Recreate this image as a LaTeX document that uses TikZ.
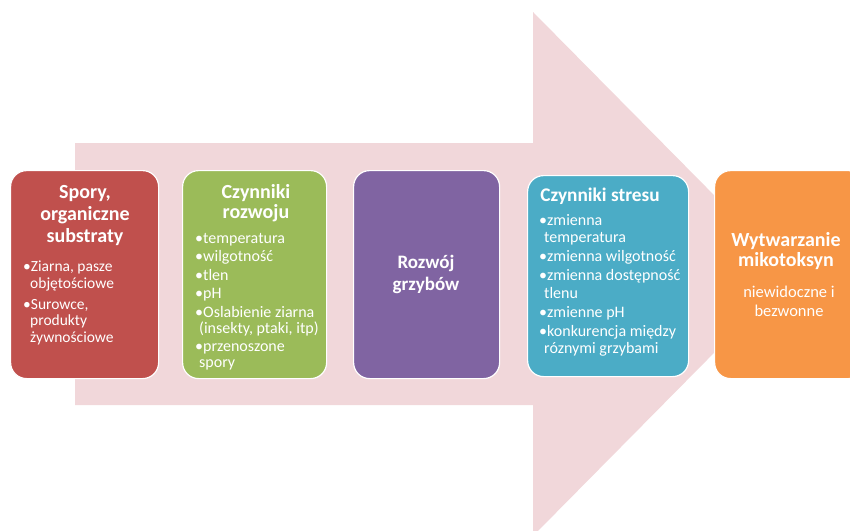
\documentclass[tikz,border=0pt]{standalone}
\usepackage{fontspec}
\setmainfont{Carlito}
\definecolor{arrowpink}{HTML}{F1D7DA}
\definecolor{cred}{HTML}{C0504D}
\definecolor{cgreen}{HTML}{9BBB59}
\definecolor{cpurple}{HTML}{8064A2}
\definecolor{cblue}{HTML}{4BACC6}
\definecolor{corange}{HTML}{F79646}
\begin{document}
\begin{tikzpicture}[x=1pt,y=-1pt,
  card/.style={draw=white, line width=1.2pt, rounded corners=16pt, inner sep=0pt, anchor=north west},
  ttl/.style={text=white, font=\fontsize{20}{22}\selectfont\bfseries, align=center, inner sep=0pt, anchor=north},
  lst/.style={text=white, font=\fontsize{15.5}{16.6}\selectfont, align=left, inner sep=0pt, anchor=north west},
  lstb/.style={text=white, font=\fontsize{16}{17}\selectfont, align=left, inner sep=0pt, anchor=north west},
  sub/.style={text=white, font=\fontsize{16.5}{19}\selectfont, align=center, inner sep=0pt, anchor=north}]
\useasboundingbox (0,0) rectangle (850,530);
\begin{scope}
\clip (0,0) rectangle (850,530);
\fill[arrowpink] (75,143) -- (533,143) -- (533,12) -- (792,274) -- (533,536) -- (533,405) -- (75,405) -- cycle;
\node[card, fill=cred, minimum width=148pt, minimum height=208pt] (b1) at (10,170) {};
\node[card, fill=cgreen, minimum width=144pt, minimum height=208pt] (b2) at (182,170) {};
\node[card, fill=cpurple, minimum width=146pt, minimum height=208pt] (b3) at (353,170) {};
\node[card, fill=cblue, minimum width=161pt, minimum height=201pt] (b4) at (527,175) {};
\node[card, fill=corange, minimum width=150pt, minimum height=208pt] (b5) at (714,170) {};
\end{scope}
% red
\node[ttl] (t1) at (85,185) {Spory,\\organiczne\\substraty};
\node[lst] (l1) at (23,261) {\textbullet Ziarna, pasze\\\hspace*{7pt}objętościowe\\[4pt]\textbullet Surowce,\\\hspace*{7pt}produkty\\\hspace*{7pt}żywnościowe};
% green
\node[ttl, font=\fontsize{20}{20}\selectfont\bfseries] (t2) at (256,184) {Czynniki\\rozwoju};
\node[lstb, font=\fontsize{16}{16}\selectfont] (l2) at (195,233) {\textbullet temperatura\\[2.5pt]\textbullet wilgotność\\[2.5pt]\textbullet tlen\\[2.5pt]\textbullet pH\\[2.5pt]\textbullet Oslabienie ziarna\\\hspace*{4pt}(insekty, ptaki, itp)\\[2.5pt]\textbullet przenoszone\\\hspace*{4pt}spory};
% purple
\node[ttl, font=\fontsize{19}{22}\selectfont\bfseries] (t3) at (426,255) {Rozwój\\grzybów};
% blue
\node[ttl, font=\fontsize{19.3}{22}\selectfont\bfseries] (t4) at (600,188) {Czynniki stresu};
\node[lstb, font=\fontsize{16}{17.5}\selectfont] (l4) at (539,214) {\textbullet zmienna\\\hspace*{5pt}temperatura\\[1.5pt]\textbullet zmienna wilgotność\\[1.5pt]\textbullet zmienna dostępność\\\hspace*{5pt}tlenu\\[1.5pt]\textbullet zmienne pH\\[1.5pt]\textbullet konkurencja między\\\hspace*{5pt}róznymi grzybami};
% orange
\node[ttl, font=\fontsize{20}{20}\selectfont\bfseries] (t5) at (786,232) {Wytwarzanie\\mikotoksyn};
\node[sub] (s5) at (789,286) {niewidoczne i\\bezwonne};
\end{tikzpicture}
\end{document}
